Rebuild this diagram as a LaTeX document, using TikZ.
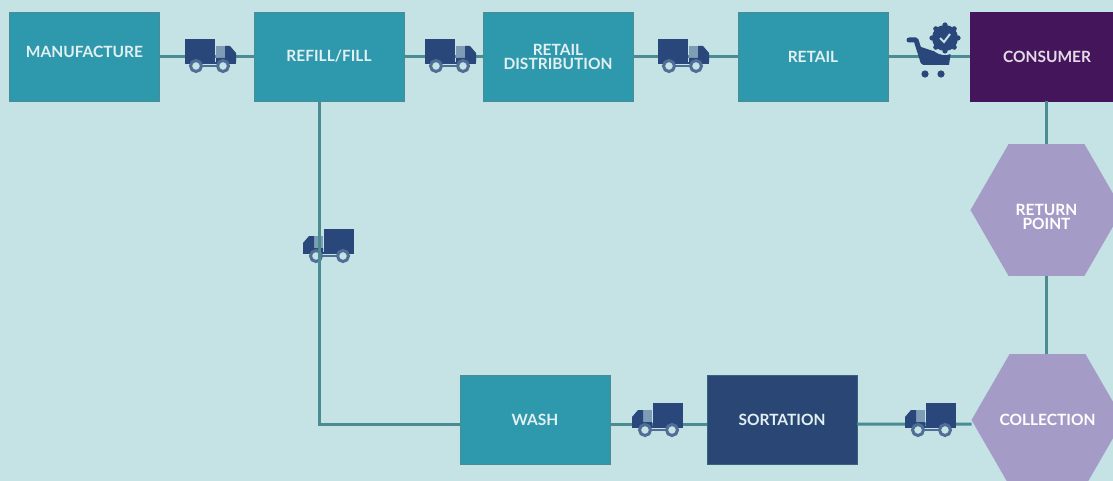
\documentclass[tikz,border=0pt]{standalone}
\usepackage{fontspec}
\setmainfont{Lato}
\usetikzlibrary{positioning,shapes.geometric}
\definecolor{bgcol}{HTML}{C5E2E5}
\definecolor{tealbox}{HTML}{2E98AC}
\definecolor{plumbox}{HTML}{44155B}
\definecolor{navybox}{HTML}{2A4674}
\definecolor{lilachex}{HTML}{A49CC6}
\definecolor{linkcol}{HTML}{4A8C92}
\definecolor{iconcol}{HTML}{29477A}
\tikzset{
  truck/.pic={
    \fill[iconcol] (-25,-17) rectangle (5,6);
    \fill[iconcol!45!bgcol] (6,-10) rectangle (15,2);
    \fill[iconcol] (15,-10) -- (20,-10) -- (26,-3) -- (26,6) -- (6,6) -- (6,2) -- (15,2) -- cycle;
    \fill[iconcol] (-25,6) rectangle (26,8);
    \draw[iconcol!75!bgcol,line width=2.5pt] (-8,10) -- (8,10);
    \draw[iconcol!75!bgcol,line width=3pt,fill=bgcol] (-14,10) circle (5.5pt);
    \draw[iconcol!75!bgcol,line width=3pt,fill=bgcol] (13,10) circle (5.5pt);
  },
  cart/.pic={
    \draw[iconcol,line width=5pt,line cap=round,line join=round] (-24,-16) -- (-17,-16) -- (-10,6);
    \fill[iconcol] (-15,-10) -- (0,-5) -- (18,-5) -- (16,9) -- (-10,9) -- cycle;
    \fill[iconcol] (-8,18) circle (3.6pt) (8,18) circle (3.6pt);
    \fill[bgcol] (12,-18) circle (17pt);
    \fill[iconcol] (12,-18) circle (13pt);
    \foreach \ang in {0,45,...,315}
      \fill[iconcol] (12,-18) ++(\ang:13) circle (2.6pt);
    \draw[bgcol,line width=2pt] (7,-18) -- (11,-14) -- (17,-22);
  },
}
\begin{document}
\begin{tikzpicture}[
  x=1pt,y=-1pt,
  font=\fontsize{15.5}{14}\selectfont\bfseries,
  box/.style={rectangle,draw=linkcol,line width=.8pt,fill=tealbox,text=bgcol!50!white,
              minimum height=89pt,minimum width=150pt,align=center,inner sep=0pt,outer sep=0pt},
  plum/.style={box,fill=plumbox,draw=plumbox,text=plumbox!15!white,minimum width=154pt},
  navy/.style={box,fill=navybox,draw=linkcol!40!navybox,text=bgcol!50!white},
  hexa/.style={regular polygon,regular polygon sides=6,
               fill=lilachex,minimum size=152pt,inner sep=-25pt,outer sep=0pt,align=center,text=white},
  link/.style={linkcol,line width=3pt},
]
\useasboundingbox (0,0) rectangle (1113,481);
\fill[bgcol] (0,0) rectangle (1113,481);

\node[box] (manufacture) at (84.5,56.5) {\raisebox{10pt}{MANUFACTURE}};
\node[box,right=94.5pt of manufacture] (refill) {REFILL/FILL};
\node[box,right=79pt of refill] (distribution) {RETAIL\\DISTRIBUTION};
\node[box,right=105pt of distribution] (retail) {RETAIL};
\node[plum,right=82pt of retail] (consumer) {CONSUMER};

\node[hexa] (returnpt) at (1046.5,210) {\rule{0pt}{26pt}RETURN\\POINT};
\node[hexa] (collection) at (1047.5,420) {COLLECTION};
\node[navy] (sortation) at (782,420) {SORTATION};
\node[box,left=97pt of sortation] (wash) {WASH};

% this truck sits under its line
\pic[xscale=-1] at (329,246) {truck};

\draw[link] (manufacture) -- (refill);
\draw[link] (refill) -- (distribution);
\draw[link] (distribution) -- (retail);
\draw[link] (retail) -- (consumer);
\draw[link] (consumer.south -| returnpt.north) -- (returnpt.north);
\draw[link] (returnpt.south) -- (collection.north -| returnpt.south);
\draw[link] ([yshift=-4pt]collection.west) -- ([yshift=-4pt]sortation.east);
\draw[link] ([yshift=-4pt]sortation.west) -- ([yshift=-4pt]wash.east);
\draw[link] ([xshift=-9.5pt]refill.south) |- ([yshift=-4pt]wash.west);

\pic at (210,56) {truck};
\pic at (450,56) {truck};
\pic at (683,56) {truck};
\pic[xscale=-1] at (658,420) {truck};
\pic[xscale=-1] at (931,420) {truck};
\pic at (933,56) {cart};
\end{tikzpicture}
\end{document}
